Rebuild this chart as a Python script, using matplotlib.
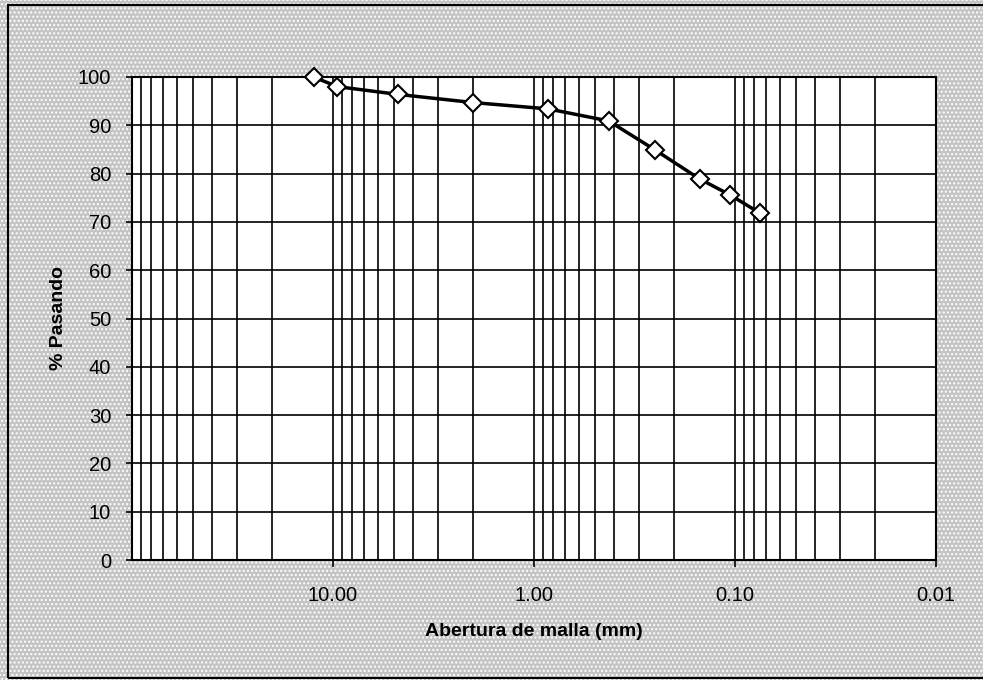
import matplotlib.pyplot as plt
import matplotlib.patches as mpatches
from matplotlib.ticker import FixedLocator, NullFormatter

plt.rcParams['font.family'] = ['Liberation Sans', 'DejaVu Sans']
plt.rcParams['hatch.color'] = '#2a2a2a'
plt.rcParams['hatch.linewidth'] = 1.0

# grain size curve
abertura = [12.5, 9.5, 4.75, 2.0, 0.85, 0.425, 0.25, 0.15, 0.106, 0.075]
pasando = [100, 98.0, 96.4, 94.7, 93.4, 90.9, 84.9, 78.9, 75.6, 71.8]
xticks = [10, 1, 0.1, 0.01]
xlabels = ['10.00', '1.00', '0.10', '0.01']
yticks = list(range(0, 101, 10))

fig = plt.figure(figsize=(9.83, 6.80), dpi=100)
fig.patch.set_facecolor('#c4c4c4')
fig.patch.set_hatch('....')

# outer frame
fig.add_artist(mpatches.Rectangle((8 / 983, 2 / 680), 1.0, 673 / 680, transform=fig.transFigure,
                                  fill=False, edgecolor='black', linewidth=1.5))

ax = fig.add_axes([132 / 983, 1 - 560 / 680, (936 - 132) / 983, (560 - 77) / 680])
ax.set_facecolor('white')
ax.set_xscale('log')
ax.set_xlim(100, 0.01)
ax.set_ylim(0, 100)

minor = [m * 10.0 ** e for e in range(-2, 2) for m in range(2, 10)]
ax.xaxis.set_major_locator(FixedLocator(xticks))
ax.xaxis.set_minor_locator(FixedLocator(minor))
ax.xaxis.set_minor_formatter(NullFormatter())
ax.set_xticklabels(xlabels)
ax.set_yticks(yticks)

ax.grid(True, which='both', axis='x', color='black', linewidth=1.2)
ax.grid(True, which='major', axis='y', color='black', linewidth=1.2)
ax.tick_params(axis='x', which='minor', length=0)
ax.tick_params(axis='both', which='major', width=1.2, labelsize=14.5)
ax.tick_params(axis='y', which='major', length=4, pad=11)
ax.tick_params(axis='x', which='major', length=5, pad=14)
for s in ax.spines.values():
    s.set_linewidth(1.5)

ax.plot(abertura, pasando, color='black', linewidth=2.5, marker='D', markersize=9,
        markerfacecolor='white', markeredgecolor='black', markeredgewidth=1.5, zorder=5,
        clip_on=False)

ax.set_xlabel('Abertura de malla (mm)', fontsize=14, fontweight='bold', labelpad=13)
ax.set_ylabel('% Pasando', fontsize=14, fontweight='bold', labelpad=8)

fig.savefig('out.png', dpi=100, facecolor=fig.get_facecolor())
